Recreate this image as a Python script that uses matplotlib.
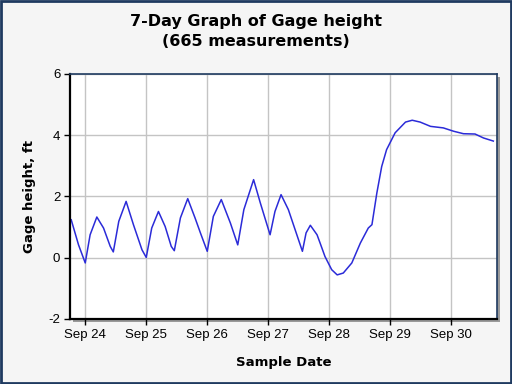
import numpy as np
import matplotlib.pyplot as plt
from matplotlib.patches import Rectangle

plt.rcParams["axes.unicode_minus"] = False

# time in days relative to Sep 24 00:00, gage height in ft
days = [-0.23, -0.11, 0.0, 0.08, 0.19, 0.3, 0.41, 0.46, 0.55, 0.67, 0.79, 0.93, 1.0,
        1.09, 1.2, 1.31, 1.41, 1.46, 1.56, 1.68, 1.8, 1.89, 2.0, 2.1, 2.23, 2.38, 2.5,
        2.6, 2.68, 2.76, 2.87, 3.03, 3.11, 3.21, 3.33, 3.44, 3.56, 3.62, 3.69, 3.8,
        3.85, 3.93, 4.04, 4.13, 4.23, 4.37, 4.51, 4.64, 4.7, 4.78, 4.86, 4.94, 5.08,
        5.25, 5.36, 5.49, 5.66, 5.87, 6.04, 6.2, 6.39, 6.53, 6.69]
height = [1.24, 0.42, -0.17, 0.75, 1.33, 0.97, 0.37, 0.19, 1.19, 1.84, 1.08, 0.26, 0.01,
          0.97, 1.51, 1.02, 0.37, 0.23, 1.3, 1.93, 1.3, 0.8, 0.21, 1.35, 1.9, 1.13, 0.42,
          1.57, 2.06, 2.55, 1.79, 0.75, 1.51, 2.06, 1.57, 0.92, 0.21, 0.81, 1.06, 0.75,
          0.48, 0.04, -0.39, -0.56, -0.5, -0.17, 0.48, 0.97, 1.08, 2.11, 2.98, 3.53, 4.08,
          4.43, 4.49, 4.43, 4.29, 4.24, 4.13, 4.05, 4.04, 3.91, 3.81]

tick_days = [0, 1, 2, 3, 4, 5, 6]
tick_labels = ["Sep 24", "Sep 25", "Sep 26", "Sep 27", "Sep 28", "Sep 29", "Sep 30"]
y_ticks = [-2, 0, 2, 4, 6]

fig = plt.figure(figsize=(5.12, 3.84), dpi=100)
fig.patch.set_facecolor("#f5f5f5")
fig.patches.append(Rectangle((0.002, 0.003), 0.996, 0.994, transform=fig.transFigure,
                             fill=False, edgecolor="#1f3a60", lw=2))

pos = [0.1367, 0.1693, 0.834, 0.638]
ax = fig.add_axes(pos)
ax.set_zorder(1)
# drop shadow behind plot area
shadow = Rectangle((pos[0] + 0.005, pos[1] - 0.007), pos[2], pos[3],
                   transform=fig.transFigure, facecolor="#9a9a9a",
                   edgecolor="none", zorder=-1)
fig.patches.append(shadow)
ax.set_facecolor("white")
ax.plot(days, height, color="#2b2bd8", lw=1.1)

ax.set_xlim(-0.25, 6.75)
ax.set_ylim(-2, 6)
ax.set_xticks(tick_days)
ax.set_xticklabels(tick_labels)
ax.set_yticks(y_ticks)
ax.grid(True, color="#c4c4c4", lw=1)
ax.set_axisbelow(True)

for s in ["left", "bottom"]:
    ax.spines[s].set_color("black")
    ax.spines[s].set_linewidth(1.6)
for s in ["top", "right"]:
    ax.spines[s].set_color("#1f3a60")
    ax.spines[s].set_linewidth(1.2)

ax.tick_params(direction="out", length=4, width=1, labelsize=9.5, pad=3)
for lab in ax.get_xticklabels() + ax.get_yticklabels():
    lab.set_fontfamily("Liberation Sans")

fig.text(0.5, 0.917, "7-Day Graph of Gage height\n(665 measurements)", ha="center",
         va="center", fontsize=11.5, fontweight="bold", linespacing=1.4)
ax.set_xlabel("Sample Date", fontsize=9.5, fontweight="bold", labelpad=11)
ax.set_ylabel("Gage height, ft", fontsize=9.5, fontweight="bold", labelpad=9)

fig.savefig("out.png", dpi=100, facecolor=fig.get_facecolor())
